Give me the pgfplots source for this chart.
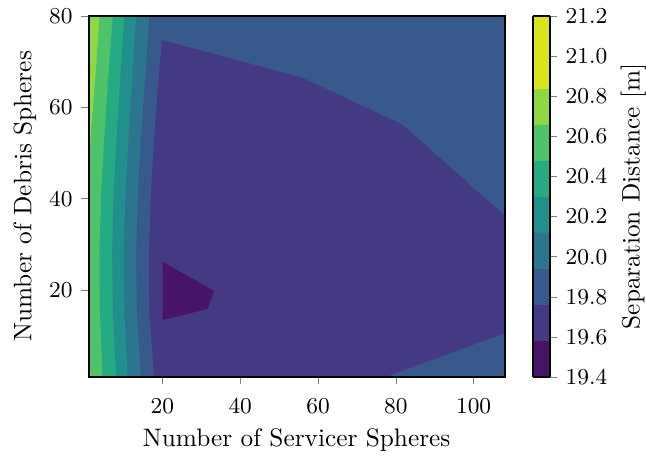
\documentclass[border=0pt]{standalone}
\usepackage{pgfplots}
\pgfplotsset{compat=1.18}

% contour band colours (19.4 ... 21.2 in steps of 0.2)
\definecolor{c1}{RGB}{71,20,103}
\definecolor{c2}{RGB}{68,57,131}
\definecolor{c3}{RGB}{56,89,140}
\definecolor{c4}{RGB}{43,117,142}
\definecolor{c5}{RGB}{33,144,140}
\definecolor{c6}{RGB}{37,170,131}
\definecolor{c7}{RGB}{78,195,106}
\definecolor{c8}{RGB}{143,215,68}
\definecolor{c9}{RGB}{218,227,27}

\pgfplotsset{
  tick label style={font=\fontsize{9}{10}\selectfont},
  label style={font=\fontsize{10}{12}\selectfont},
  tick align=outside,
  major tick length=2.8pt,
}

\begin{document}
\begin{tikzpicture}
\begin{axis}[
  scale only axis, width=164.6pt, height=142.9pt,
  xmin=1, xmax=108, ymin=1, ymax=80,
  xtick={20,40,60,80,100}, ytick={20,40,60,80},
  xtick pos=left, ytick pos=left,
  xticklabel style={yshift=-2.2pt},
  xlabel={Number of Servicer Spheres},
  ylabel={Number of Debris Spheres},
  xlabel style={at={([yshift=-27.3pt]axis description cs:0.5,0)}, anchor=base},
  ylabel style={at={([xshift=-22.6pt]axis description cs:0,0.5)}, anchor=base},
  axis line style={line width=0.8pt},
  axis on top,
  colormap={sepd}{rgb255=(71,20,103) rgb255=(68,57,131) rgb255=(56,89,140)
    rgb255=(43,117,142) rgb255=(33,144,140) rgb255=(37,170,131)
    rgb255=(78,195,106) rgb255=(143,215,68) rgb255=(218,227,27) rgb255=(218,227,27)},
  colormap access=piecewise constant,
  point meta min=19.4, point meta max=21.2,
  colorbar,
  colorbar style={
    at={(parent axis.north east)}, anchor=north west, xshift=2.5pt,
    width=6.7pt,
    ytick={19.4,19.6,19.8,20.0,20.2,20.4,20.6,20.8,21.0,21.2},
    yticklabel style={/pgf/number format/.cd, fixed, fixed zerofill, precision=1},
    yticklabel pos=right, ytick pos=right,
    ylabel={Separation Distance [m]},
    ylabel style={at={([xshift=35.6pt]axis description cs:1,0.5)}, anchor=base, inner sep=0pt},
    axis line style={line width=0.8pt},
  },
]
% band 20.6--20.8 as the base layer
\addplot[fill=c7, draw=none] coordinates {(1,1) (108,1) (108,80) (1,80)} -- cycle;
% band 20.8--21.0 along the left edge
\addplot[fill=c8, draw=none] coordinates {(1,80) (3.82,80) (2.79,66.96) (1.64,55) (1,42)} -- cycle;
\addplot[fill=c8, draw=none] coordinates {(1,4) (1.77,1) (1,1)} -- cycle;
% band 20.4--20.6
\addplot[fill=c6, draw=none] coordinates {(7.23,80) (6.13,66.96) (5.10,53.91) (4.21,40.87)
  (3.82,27.83) (3.95,14.78) (4.59,1) (108,1) (108,80)} -- cycle;
% band 20.2--20.4
\addplot[fill=c5, draw=none] coordinates {(10.23,80) (9.2,66.96) (8.26,53.91) (7.41,40.87)
  (7.08,27.83) (7.28,14.78) (8.1,1) (108,1) (108,80)} -- cycle;
% band 20.0--20.2
\addplot[fill=c4, draw=none] coordinates {(13.23,80) (12.28,66.96) (11.33,53.91) (10.49,40.87)
  (10.05,27.83) (10.23,14.78) (11.08,1) (108,1) (108,80)} -- cycle;
% band 19.8--20.0
\addplot[fill=c3, draw=none] coordinates {(16.64,80) (15.62,66.96) (14.51,53.91) (13.69,40.87)
  (13.23,27.83) (13.44,14.78) (14.51,1) (108,1) (108,80)} -- cycle;
% band 19.6--19.8
\addplot[fill=c2, draw=none] coordinates {(19.9,74.7) (19.08,66.96) (17.92,53.91) (17.03,40.87)
  (16.51,27.83) (16.64,14.78) (17.9,1) (77.33,1) (108,10.65) (108,36.3)
  (81.6,56.24) (55.95,66.46)} -- cycle;
% band 19.4--19.6
\addplot[fill=c1, draw=none] coordinates {(20.05,26.2) (33.3,19.85) (31.6,15.9) (20.05,13.5)} -- cycle;
\end{axis}
\path (-35.0pt,-30.3pt) rectangle (219.3pt,148.8pt);
\end{tikzpicture}
\end{document}
